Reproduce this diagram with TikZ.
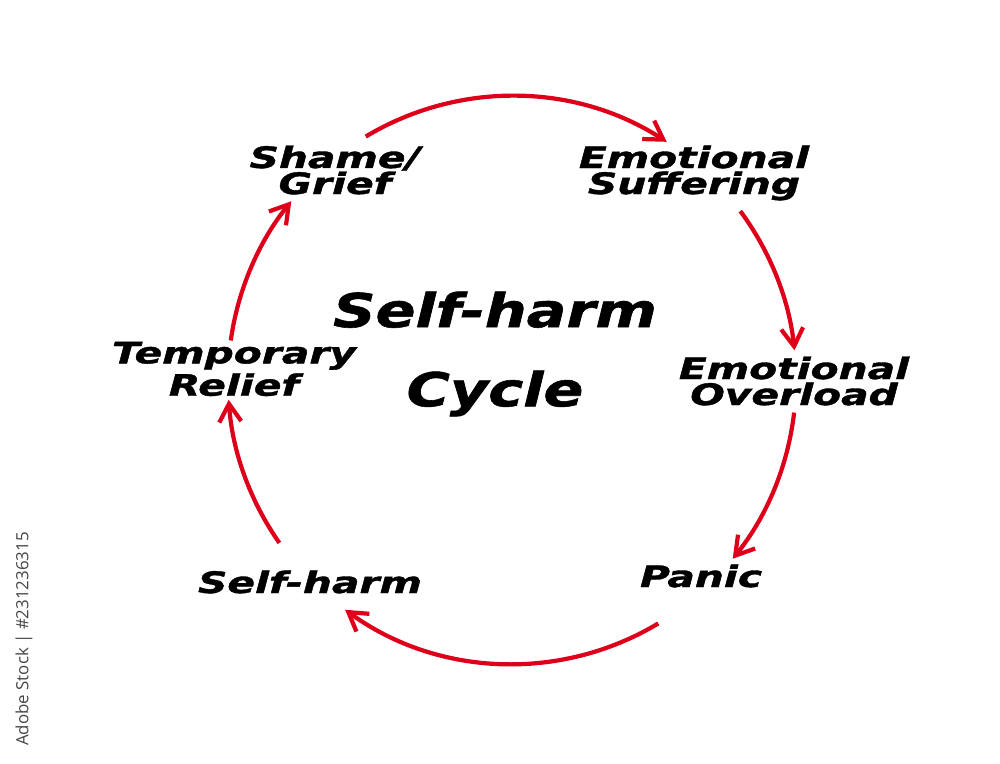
\documentclass[tikz,border=0pt]{standalone}
\usepackage{fontspec}
\setmainfont{DejaVu Sans}[BoldFeatures={FakeBold=1.2}, BoldItalicFeatures={FakeBold=1.2}]
\newfontfamily\stockfont{Open Sans}
\usepackage{tikz}
\usetikzlibrary{arrows.meta}
\definecolor{cyclered}{RGB}{222,0,26}
\definecolor{stockgray}{RGB}{70,70,70}
\tikzset{
  stage/.style={font=\bfseries\itshape\fontsize{8.4}{7.4}\selectfont, align=center,
                inner sep=0pt, xscale=1.38},
  headline/.style={font=\bfseries\itshape\fontsize{13.3}{22.5}\selectfont, align=center,
                   inner sep=0pt, xscale=1.26},
  cyc/.style={-{Straight Barb[length=1.8mm, width=2.2mm]}, line width=1.2pt, cyclered},
  stock/.style={font=\stockfont\fontsize{4.8}{5}\selectfont, text=stockgray, rotate=90}
}

\begin{document}
\begin{tikzpicture}
  \useasboundingbox (0,0) rectangle (10,-7.63);
  % centre of the cycle
  \coordinate (hub) at (5.12,-3.80);
  % title
  \node[headline] (ttl) at (4.95,-3.54) {Self-harm\\Cycle};
  % stages
  \node[stage] (shame) at (3.35,-1.70) {Shame/\\Grief};
  \node[stage] (suffer) at (6.94,-1.73) {Emotional\\Suffering};
  \node[stage] (overl) at (7.94,-3.81) {Emotional\\Overload};
  \node[stage] (panic) at (7.01,-5.76) {Panic};
  \node[stage] (harm) at (3.10,-5.82) {Self-harm};
  \node[stage] (relief) at (2.34,-3.69) {Temporary\\Relief};
  % arrows round the cycle
  \foreach \a/\b in {121/57, 36.5/6, -6.6/-39, -59/-126, -145/-176, 172/141}
    \draw[cyc] (hub) ++(\a:2.84) arc[start angle=\a, end angle=\b, radius=2.84];
  % stock id
  \node[stock] (stockid) at (0.24,-6.39) {Adobe Stock | \#231236315};
\end{tikzpicture}
\end{document}
